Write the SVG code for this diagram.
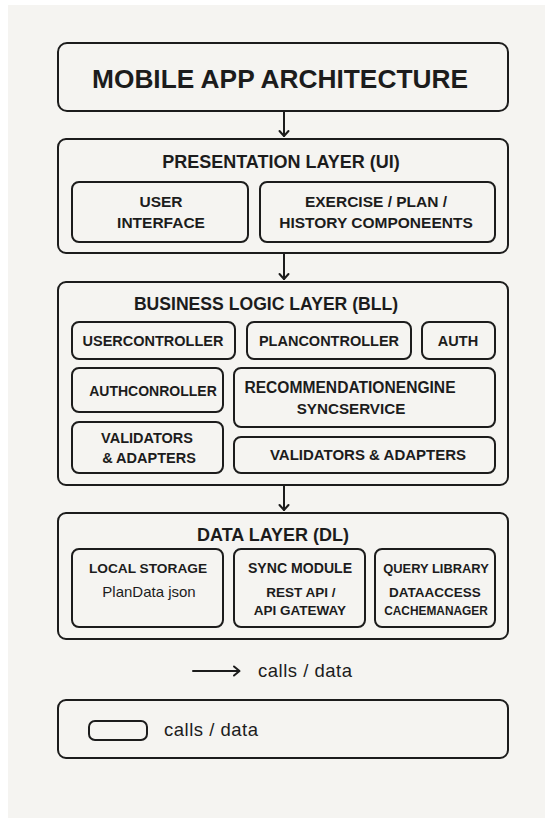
<svg xmlns="http://www.w3.org/2000/svg" width="545" height="818" viewBox="0 0 545 818">
  <defs>
    <style>
      .box { fill: none; stroke: #1c1c1c; stroke-width: 2; }
      .sub { fill: none; stroke: #1c1c1c; stroke-width: 2; }
      .line { fill: none; stroke: #1c1c1c; stroke-width: 2; stroke-linecap: round; stroke-linejoin: round; }
      text { font-family: "Liberation Sans", Arial, sans-serif; fill: #1c1c1c; text-anchor: middle; }
      .title { font-size: 26.3px; font-weight: bold; }
      .head { font-size: 18px; font-weight: bold; }
      .lbl { font-size: 14.5px; font-weight: bold; }
      .sm { font-size: 13.5px; font-weight: bold; }
      .note { font-size: 15px; font-weight: normal; }
      .legend { font-size: 17px; font-weight: normal; text-anchor: start; letter-spacing: 0.5px; }
    </style>
  </defs>

  <rect x="0" y="0" width="545" height="818" fill="#ffffff"/>
  <rect x="8" y="5" width="537" height="813" fill="#f5f4f1"/>

  <!-- connectors between layers -->
  <g id="connectors">
    <line class="line" x1="284" y1="112" x2="284" y2="136"/>
    <path class="line" d="M279.5,131 L284,136 L288.5,131"/>
    <line class="line" x1="284" y1="254" x2="284" y2="279"/>
    <path class="line" d="M279.5,274 L284,279 L288.5,274"/>
    <line class="line" x1="284" y1="486" x2="284" y2="510"/>
    <path class="line" d="M279.5,505 L284,510 L288.5,505"/>
  </g>

  <g id="title">
    <rect class="box" x="58" y="43" width="450" height="68" rx="9"/>
    <text class="title" x="280" y="88">MOBILE APP ARCHITECTURE</text>
  </g>

  <g id="presentation-layer">
    <rect class="box" x="58" y="139" width="450" height="114" rx="8"/>
    <text class="head" x="281" y="168">PRESENTATION LAYER (UI)</text>
    <g id="user-interface">
      <rect class="sub" x="72" y="182" width="176" height="60" rx="7"/>
      <text class="lbl" x="161" y="207" style="font-size:15.5px">USER</text>
      <text class="lbl" x="161" y="228" style="font-size:15.5px">INTERFACE</text>
    </g>
    <g id="components">
      <rect class="sub" x="260" y="182" width="235" height="60" rx="7"/>
      <text class="lbl" x="376" y="207" style="font-size:15.5px">EXERCISE / PLAN /</text>
      <text class="lbl" x="376" y="228" style="font-size:15.5px">HISTORY COMPONEENTS</text>
    </g>
  </g>

  <g id="business-logic-layer">
    <rect class="box" x="58" y="282" width="450" height="203" rx="8"/>
    <text class="head" x="266" y="310" style="font-size:17.6px">BUSINESS LOGIC LAYER (BLL)</text>
    <g id="usercontroller">
      <rect class="sub" x="72" y="322" width="163" height="37" rx="7"/>
      <text class="lbl" x="153" y="346">USERCONTROLLER</text>
    </g>
    <g id="plancontroller">
      <rect class="sub" x="247" y="322" width="164" height="37" rx="7"/>
      <text class="lbl" x="329" y="346">PLANCONTROLLER</text>
    </g>
    <g id="auth">
      <rect class="sub" x="422" y="322" width="73" height="37" rx="7"/>
      <text class="lbl" x="458" y="346">AUTH</text>
    </g>
    <g id="authconroller">
      <rect class="sub" x="72" y="368" width="151" height="44" rx="7"/>
      <text class="lbl" x="153" y="396" style="font-size:14px">AUTHCONROLLER</text>
    </g>
    <g id="recommendation-sync">
      <rect class="sub" x="234" y="368" width="261" height="59" rx="7"/>
      <text class="lbl" x="350" y="393" style="font-size:15.6px">RECOMMENDATIONENGINE</text>
      <text class="lbl" x="351" y="414" style="font-size:15.2px">SYNCSERVICE</text>
    </g>
    <g id="validators-left">
      <rect class="sub" x="72" y="422" width="151" height="51" rx="7"/>
      <text class="lbl" x="147" y="443">VALIDATORS</text>
      <text class="lbl" x="149" y="463">&amp; ADAPTERS</text>
    </g>
    <g id="validators-right">
      <rect class="sub" x="234" y="437" width="261" height="36" rx="7"/>
      <text class="lbl" x="368" y="460" style="font-size:15px">VALIDATORS &amp; ADAPTERS</text>
    </g>
  </g>

  <g id="data-layer">
    <rect class="box" x="58" y="513" width="450" height="126" rx="8"/>
    <text class="head" x="273" y="541">DATA LAYER (DL)</text>
    <g id="local-storage">
      <rect class="sub" x="72" y="549" width="151" height="78" rx="7"/>
      <text class="lbl" x="148" y="573" style="font-size:13.7px">LOCAL STORAGE</text>
      <text class="note" x="149" y="597">PlanData json</text>
    </g>
    <g id="sync-module">
      <rect class="sub" x="234" y="549" width="131" height="78" rx="7"/>
      <text class="lbl" x="300" y="573" style="font-size:14.1px">SYNC MODULE</text>
      <text class="sm" x="301" y="597">REST API /</text>
      <text class="sm" x="300" y="615">API GATEWAY</text>
    </g>
    <g id="query-library">
      <rect class="sub" x="375" y="549" width="120" height="78" rx="7"/>
      <text class="lbl" x="436" y="573" style="font-size:12.9px">QUERY LIBRARY</text>
      <text class="sm" x="435" y="597">DATAACCESS</text>
      <text class="sm" x="436" y="615" style="font-size:11.9px">CACHEMANAGER</text>
    </g>
  </g>

  <g id="legend-arrow">
    <line class="line" x1="193" y1="671" x2="239" y2="671"/>
    <path class="line" d="M234,666.5 L239.5,671 L234,675.5"/>
    <text class="legend" x="258" y="677" style="font-size:18.5px">calls / data</text>
  </g>

  <g id="legend-box">
    <rect class="box" x="58" y="700" width="450" height="58" rx="8"/>
    <rect class="sub" x="89" y="721" width="58" height="19" rx="6"/>
    <text class="legend" x="164" y="736" style="font-size:18.5px">calls / data</text>
  </g>
</svg>
